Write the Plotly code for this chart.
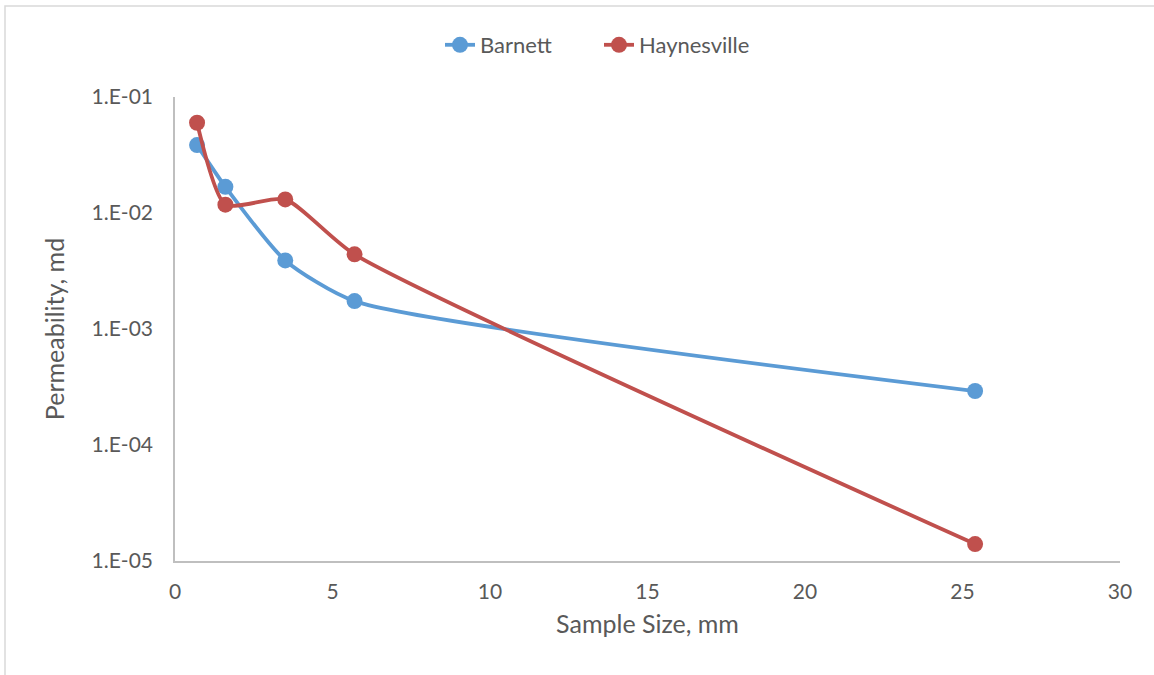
import plotly.graph_objects as go

# Sample size (mm) and measured permeability (md)
sample_size_mm = [0.7, 1.6, 3.5, 5.7, 25.4]
barnett_md = [0.0385, 0.0168, 0.0039, 0.00174, 0.000292]
haynesville_md = [0.0600, 0.0118, 0.0131, 0.00440, 0.0000140]

x_ticks = [0, 5, 10, 15, 20, 25, 30]
y_ticks = [1e-5, 1e-4, 1e-3, 1e-2, 1e-1]
y_tick_labels = ["1.E-05", "1.E-04", "1.E-03", "1.E-02", "1.E-01"]

W, H = 1154, 675
L, R, T, B = 175, 34, 97, 114
FONT = "Lato, 'Open Sans', sans-serif"
TEXT = "#595959"
AXIS = "#bfbfbf"

fig = go.Figure()
for name, ys, color in [("Barnett", barnett_md, "#5B9BD5"),
                        ("Haynesville", haynesville_md, "#C0504D")]:
    fig.add_trace(go.Scatter(
        x=sample_size_mm, y=ys, name=name, mode="lines+markers",
        line=dict(color=color, width=3.8, shape="spline", smoothing=0.6),
        marker=dict(color=color, size=16),
    ))

pw, ph = W - L - R, H - T - B

fig.update_layout(
    width=W, height=H,
    margin=dict(l=L, r=R, t=T, b=B),
    paper_bgcolor="white", plot_bgcolor="white",
    font=dict(family=FONT, color=TEXT, size=21),
    showlegend=True,
    legend=dict(orientation="h", x=(599 - L) / pw, xanchor="center",
                y=(H - B - 45) / ph, yanchor="middle",
                entrywidth=114, entrywidthmode="pixels",
                font=dict(size=22, color=TEXT, family=FONT),
                bgcolor="rgba(0,0,0,0)"),
    xaxis=dict(
        range=[0, 30], tickvals=x_ticks, showgrid=False, zeroline=False,
        showline=True, linecolor=AXIS, linewidth=1.5, ticks="",
        ticklabelstandoff=11, tickfont=dict(size=21),
        title=dict(text="Sample Size, mm", font=dict(size=25), standoff=14),
    ),
    yaxis=dict(
        type="log", range=[-5, -1], tickvals=y_ticks, ticktext=y_tick_labels,
        showgrid=False, zeroline=False, showline=True, linecolor=AXIS,
        linewidth=1.5, ticks="", ticklabelstandoff=16, tickfont=dict(size=21),
        title=dict(text="Permeability, md", font=dict(size=25), standoff=20),
    ),
)

# Chart frame (top and left edges visible)
fig.add_shape(type="rect", xref="paper", yref="paper",
              x0=(5 - L) / pw, x1=(W + 10 - L) / pw,
              y0=-(H + 10 - (H - B)) / ph, y1=(H - B - 6) / ph,
              line=dict(color="#d9d9d9", width=1.5), layer="below")

fig.write_html("out.html")
